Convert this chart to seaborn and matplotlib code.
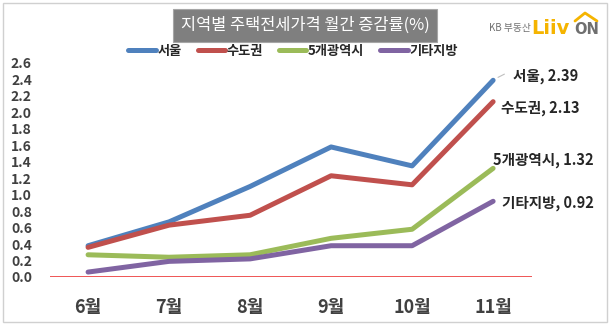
import numpy as np
import pandas as pd
import matplotlib
matplotlib.use("Agg")
import matplotlib.pyplot as plt
import seaborn as sns
from matplotlib.patches import Rectangle
from matplotlib.lines import Line2D

# ---------------- data ----------------
months = ["6월", "7월", "8월", "9월", "10월", "11월"]
seoul = [0.38, 0.67, 1.10, 1.58, 1.35, 2.39]
sudogwon = [0.36, 0.63, 0.75, 1.23, 1.12, 2.13]
metro5 = [0.27, 0.24, 0.27, 0.47, 0.58, 1.32]
others = [0.06, 0.19, 0.22, 0.38, 0.38, 0.92]
series_names = ["서울", "수도권", "5개광역시", "기타지방"]
yticks = [0.0, 0.2, 0.4, 0.6, 0.8, 1.0, 1.2, 1.4, 1.6, 1.8, 2.0, 2.2, 2.4, 2.6]
title = "지역별 주택전세가격 월간 증감률(%)"

colors = ["#4F81BD", "#C0504D", "#9BBB59", "#8064A2"]

sns.set_theme(style="white")
plt.rcParams['font.family'] = ['Noto Sans CJK KR', 'DejaVu Sans']

W, H = 611, 326
fig = plt.figure(figsize=(W / 100, H / 100), dpi=100)
fig.patch.set_facecolor("white")

def fx(px):
    return px / W

def fy(py):
    return 1 - py / H

# axes placement
left, right = 50, 532
top, bottom = 63, 277
ax = fig.add_axes([fx(left), fy(bottom), fx(right) - fx(left), fy(top) - fy(bottom)])

x_idx = np.arange(len(months))
df = pd.DataFrame({
    "x": np.tile(x_idx, 4),
    "value": seoul + sudogwon + metro5 + others,
    "series": np.repeat(series_names, len(months)),
})

ax.axhline(0, color="#EE4848", linewidth=1.3, zorder=1)
sns.lineplot(data=df, x="x", y="value", hue="series", hue_order=series_names,
             palette=colors, linewidth=3.6, ax=ax, legend=False,
             solid_capstyle="round", sort=False, zorder=3)

ax.set_xlim(-0.47, 5.48)
ax.set_ylim(0, 2.6)
for s in ax.spines.values():
    s.set_visible(False)
ax.set_xlabel("")
ax.set_ylabel("")
ax.set_xticks(x_idx)
ax.set_xticklabels(months, fontsize=13, fontweight="bold", color="#404040")
ax.set_yticks(yticks)
ax.set_yticklabels([f"{v:.1f}" for v in yticks], fontsize=10, fontweight="bold",
                   color="#404040")
ax.tick_params(axis="y", length=0, pad=13)
ax.tick_params(axis="x", length=0, pad=15)
ax.grid(False)
ax.set_facecolor("none")

# end labels
all_vals = [seoul, sudogwon, metro5, others]
offsets_px = [(20, 4), (8, -6.5), (0, 8), (9, -2)]
for name, vals, (dx, dy) in zip(series_names, all_vals, offsets_px):
    v = vals[-1]
    ax.annotate(f"{name}, {v:.2f}", xy=(x_idx[-1], v),
                xytext=(dx * 0.72, dy * 0.72), textcoords="offset points",
                ha="left", va="center", fontsize=10.5, fontweight="bold",
                color="#262626", annotation_clip=False)
# small leader line for Seoul
ax.annotate("", xy=(x_idx[-1] + 0.03, seoul[-1] + 0.02),
            xytext=(x_idx[-1] + 0.17, seoul[-1] + 0.09),
            arrowprops=dict(arrowstyle="-", color="#BFBFBF", lw=0.8),
            annotation_clip=False)

# legend
handles = [Line2D([0], [0], color=c, lw=3.6, solid_capstyle="round") for c in colors]
leg = fig.legend(handles, series_names, loc="center", bbox_to_anchor=(fx(293), fy(51)),
                 ncol=4, frameon=False, handlelength=2.1, handletextpad=0.1,
                 columnspacing=1.2, prop=dict(size=9.5, weight="bold"))
for t in leg.get_texts():
    t.set_color("#262626")

# title box
fig.patches.append(Rectangle((fx(173), fy(42)), fx(437) - fx(173), fy(9) - fy(42),
                             transform=fig.transFigure, facecolor="#7F7F7F",
                             edgecolor="#A6A6A6", lw=0.8, zorder=1))
fig.text(fx(305), fy(25.5), title, ha="center", va="center", fontsize=11.8,
         color="white", zorder=2)

# logo
fig.text(fx(489), fy(28), "KB 부동산", ha="left", va="center", fontsize=7,
         color="#6F6F6F")
fig.text(fx(531), fy(29), "Liiv", ha="left", va="center", fontsize=14,
         fontweight="heavy", color="#F5B400", family="DejaVu Sans")
fig.text(fx(574), fy(29.5), "ON", ha="left", va="center", fontsize=10.5,
         fontweight="heavy", color="#6F6F6F", family="DejaVu Sans")
fig.lines.append(Line2D([fx(575), fx(585), fx(597)], [fy(21), fy(13), fy(21)],
                        transform=fig.transFigure, color="#F5B400", lw=2))

# outer frame
fig.patches.append(Rectangle((fx(2.5), fy(322)), fx(607) - fx(2.5), fy(2.5) - fy(322),
                             transform=fig.transFigure, facecolor="none",
                             edgecolor="#D0D0D0", lw=1.0, zorder=0))

fig.savefig("out.png", dpi=100)
